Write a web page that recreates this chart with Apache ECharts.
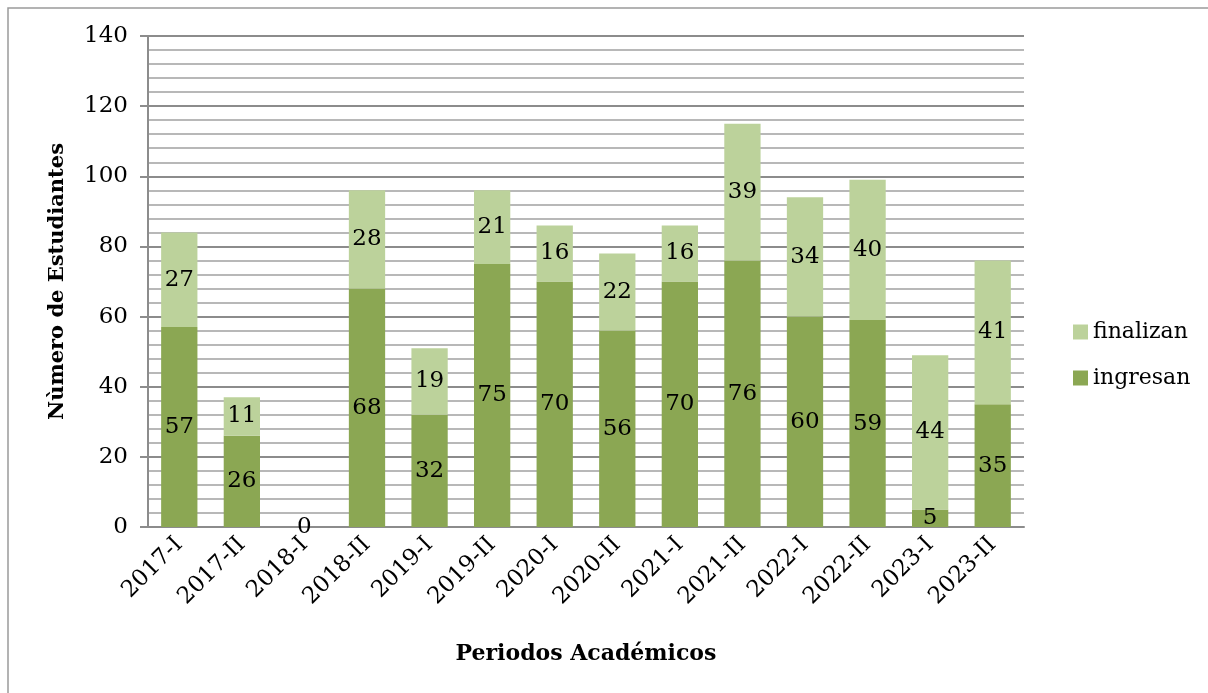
<!DOCTYPE html>
<html>
<head>
<meta charset="utf-8">
<script src="https://cdn.jsdelivr.net/npm/echarts@6/dist/echarts.min.js"></script>
<style>
  html, body { margin: 0; padding: 0; background: #fff; }
  #chart { width: 1208px; height: 693px; }
</style>
</head>
<body>
<div id="chart"></div>
<script>
const periods = ["2017-I", "2017-II", "2018-I", "2018-II", "2019-I", "2019-II", "2020-I",
  "2020-II", "2021-I", "2021-II", "2022-I", "2022-II", "2023-I", "2023-II"];
const ingresan = [57, 26, 0, 68, 32, 75, 70, 56, 70, 76, 60, 59, 5, 35];
const finalizan = [27, 11, null, 28, 19, 21, 16, 22, 16, 39, 34, 40, 44, 41];

const darkGreen = "#8ba753";
const lightGreen = "#bcd29b";
const fontFamily = "'DejaVu Serif', serif";

const chart = echarts.init(document.getElementById("chart"));

const labelStyle = {
  show: true,
  position: "inside",
  color: "#000",
  fontFamily,
  fontSize: 23,
};

chart.setOption({
  animation: false,
  textStyle: { fontFamily },
  graphic: [
    {
      type: "rect",
      shape: { x: 8, y: 8, width: 1220, height: 720 },
      style: { fill: "none", stroke: "#9a9a9a", lineWidth: 1.5 },
      silent: true,
    },
  ],
  grid: { left: 148, right: 184, top: 36, bottom: 166 },
  legend: {
    orient: "vertical",
    left: 1068,
    top: 316,
    itemWidth: 15,
    itemHeight: 15,
    itemGap: 24,
    icon: "rect",
    data: ["finalizan", "ingresan"],
    textStyle: { fontFamily, fontSize: 22, color: "#000" },
  },
  xAxis: {
    type: "category",
    data: periods,
    name: "Periodos Académicos",
    nameLocation: "middle",
    nameGap: 116,
    nameTextStyle: { fontFamily, fontSize: 22, fontWeight: "bold", color: "#000" },
    axisLine: { lineStyle: { color: "#8c8c8c", width: 2 } },
    axisTick: { show: false },
    axisLabel: { rotate: 45, color: "#000", fontSize: 23, fontFamily, margin: 14 },
  },
  yAxis: {
    type: "value",
    min: 0,
    max: 140,
    interval: 20,
    name: "Nùmero de Estudiantes",
    nameLocation: "middle",
    nameGap: 80,
    nameTextStyle: { fontFamily, fontSize: 21, fontWeight: "bold", color: "#000" },
    axisLine: { show: true, lineStyle: { color: "#8c8c8c", width: 2 } },
    axisTick: { show: true, inside: false, length: 8, lineStyle: { color: "#8c8c8c", width: 2 } },
    axisLabel: { color: "#000", fontSize: 23, fontFamily, margin: 20 },
    splitLine: { lineStyle: { color: "#8c8c8c", width: 2 } },
    minorTick: { show: false, splitNumber: 5 },
    minorSplitLine: { show: true, lineStyle: { color: "#b8b8b8", width: 2 } },
  },
  series: [
    {
      name: "ingresan",
      type: "bar",
      stack: "total",
      data: ingresan,
      barWidth: "58%",
      itemStyle: { color: darkGreen },
      label: labelStyle,
    },
    {
      name: "finalizan",
      type: "bar",
      stack: "total",
      data: finalizan,
      barWidth: "58%",
      itemStyle: { color: lightGreen },
      label: labelStyle,
    },
  ],
});
</script>
</body>
</html>
